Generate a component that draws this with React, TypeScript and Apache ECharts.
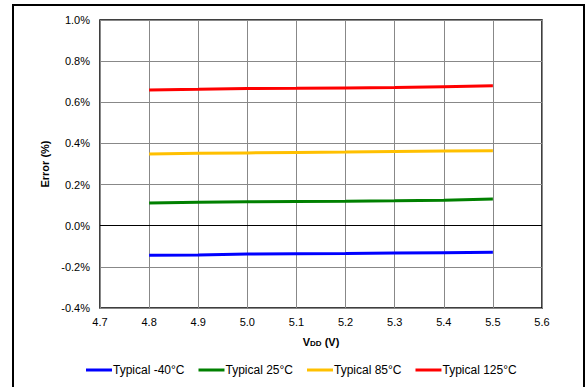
import React, { useEffect, useRef } from "react";
import * as echarts from "echarts";

const vdd = [4.8, 4.9, 5.0, 5.1, 5.2, 5.3, 5.4, 5.5];
const errMinus40 = [-0.144, -0.142, -0.138, -0.136, -0.135, -0.133, -0.131, -0.129];
const err25 = [0.110, 0.114, 0.116, 0.118, 0.119, 0.121, 0.124, 0.130];
const err85 = [0.349, 0.352, 0.354, 0.356, 0.358, 0.361, 0.363, 0.365];
const err125 = [0.660, 0.663, 0.667, 0.668, 0.670, 0.672, 0.676, 0.680];

const seriesNames = ["Typical -40°C", "Typical 25°C", "Typical 85°C", "Typical 125°C"];
const seriesColors = ["#0000ff", "#008000", "#ffc000", "#ff0000"];
const seriesValues = [errMinus40, err25, err85, err125];

const FONT = "Liberation Sans, Arial, sans-serif";

export default function App() {
  const ref = useRef<HTMLDivElement>(null);
  useEffect(() => {
    document.body.style.margin = "0";
    const chart = echarts.init(ref.current!, null, { renderer: "svg" });
    const series: any[] = seriesValues.map((vals, i) => ({
      name: seriesNames[i],
      type: "line",
      data: vdd.map((x, j) => [x, vals[j]]),
      showSymbol: false,
      symbol: "none",
      lineStyle: { color: seriesColors[i], width: 3 },
      itemStyle: { color: seriesColors[i] },
      z: 3,
    }));
    series[0].markLine = {
      silent: true,
      symbol: "none",
      label: { show: false },
      lineStyle: { color: "#000", width: 1, type: "solid" },
      data: [{ yAxis: 0 }],
      z: 2,
    };
    chart.setOption({
      animation: false,
      backgroundColor: "#fff",
      textStyle: { fontFamily: FONT },
      grid: {
        left: 100,
        top: 20,
        width: 442,
        height: 288,
        show: true,
        borderColor: "#000",
        borderWidth: 1.5,
        backgroundColor: "transparent",
      },
      xAxis: {
        type: "value",
        min: 4.7,
        max: 5.6,
        interval: 0.1,
        axisLine: { show: false },
        axisTick: { show: false },
        splitLine: { show: true, lineStyle: { color: "#888", width: 1 } },
        axisLabel: {
          color: "#000",
          fontSize: 11,
          fontFamily: FONT,
          margin: 8,
          formatter: (v: number) => v.toFixed(1),
        },
        name: "{b|V}{s|DD}{b| (V)}",
        nameLocation: "middle",
        nameGap: 28,
        nameTextStyle: {
          rich: {
            b: { fontSize: 11, fontWeight: "bold", fontFamily: FONT, color: "#000" },
            s: { fontSize: 8, fontWeight: "bold", fontFamily: FONT, color: "#000", padding: [3, 0, 0, 0] },
          },
        },
      },
      yAxis: {
        type: "value",
        min: -0.4,
        max: 1.0,
        interval: 0.2,
        axisLine: { show: false },
        axisTick: { show: false },
        splitLine: { show: true, lineStyle: { color: "#888", width: 1 } },
        axisLabel: {
          color: "#000",
          fontSize: 11,
          fontFamily: FONT,
          margin: 10,
          formatter: (v: number) => v.toFixed(1) + "%",
        },
        name: "Error (%)",
        nameLocation: "middle",
        nameGap: 42,
        nameTextStyle: { fontSize: 11, fontWeight: "bold", fontFamily: FONT, color: "#000" },
      },
      legend: {
        left: 81,
        top: 359,
        itemWidth: 26,
        itemHeight: 3,
        itemGap: 14,
        icon: "rect",
        textStyle: { fontSize: 12, fontFamily: FONT, color: "#000", padding: [0, 0, 0, -4] },
        data: seriesNames,
      },
      graphic: [
        {
          type: "rect",
          shape: { x: 13, y: 5, width: 571, height: 400 },
          style: { fill: "none", stroke: "#000", lineWidth: 2 },
          silent: true,
        },
      ],
      series,
    });
    return () => chart.dispose();
  }, []);
  return <div ref={ref} style={{ width: 586, height: 387 }} />;
}
